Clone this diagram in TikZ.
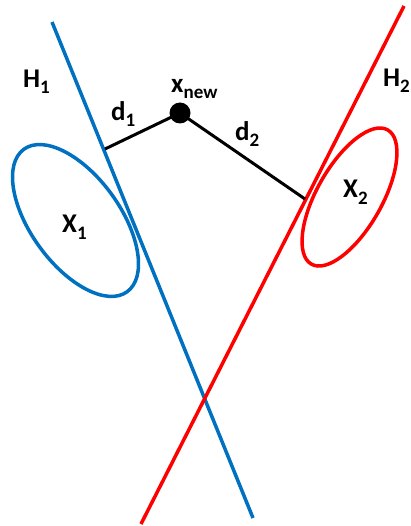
\documentclass[tikz,border=0pt]{standalone}
\usepackage{fontspec}
\setmainfont{Carlito}
\definecolor{hblue}{RGB}{0,112,192}
\definecolor{hred}{RGB}{255,0,0}
\newcommand{\lbl}[2]{{\fontsize{27}{27}\selectfont\bfseries #1}\raisebox{-6pt}{\fontsize{19}{19}\selectfont\bfseries #2}}
\begin{document}
\begin{tikzpicture}[x=1pt,y=-1pt,
  bluestroke/.style={draw=hblue,line width=3.5pt},
  redstroke/.style={draw=hred,line width=3.5pt},
  dist/.style={draw=black,line width=3pt},
  lab/.style={inner sep=0pt,anchor=base west,text=black}]
\useasboundingbox (0,0) rectangle (411,526);
% hyperplanes
\coordinate (b1) at (52,22);
\coordinate (b2) at (253,518);
\coordinate (r1) at (404,6);
\coordinate (r2) at (141,524);
\draw[bluestroke] (b1) -- (b2);
\draw[redstroke] (r1) -- (r2);
% clusters
\coordinate (c1) at (75.5,220.5);
\coordinate (c2) at (349.5,197);
\draw[bluestroke,rotate around={-54.1:(c1)}] (c1) ellipse [x radius=88, y radius=44.6];
\draw[redstroke,rotate around={60.4:(c2)}] (c2) ellipse [x radius=77.2, y radius=32.5];
% new point and distances
\coordinate (p) at (180,113);
\coordinate (f1) at (105,149);
\coordinate (f2) at (305,199);
\draw[dist] (f1) -- (p) -- (f2);
\fill[black] (p) circle [radius=10.5];
% labels
\node[lab] (h1) at (23,88) {\lbl{H}{1}};
\node[lab] (h2) at (383,87) {\lbl{H}{2}};
\node[lab] (x1) at (62,233) {\lbl{X}{1}};
\node[lab] (x2) at (343,198) {\lbl{X}{2}};
\node[lab] (d1) at (111,121) {\lbl{d}{1}};
\node[lab] (d2) at (235,141) {\lbl{d}{2}};
\node[lab] (xn) at (171,93) {\lbl{x}{new}};
\end{tikzpicture}
\end{document}
